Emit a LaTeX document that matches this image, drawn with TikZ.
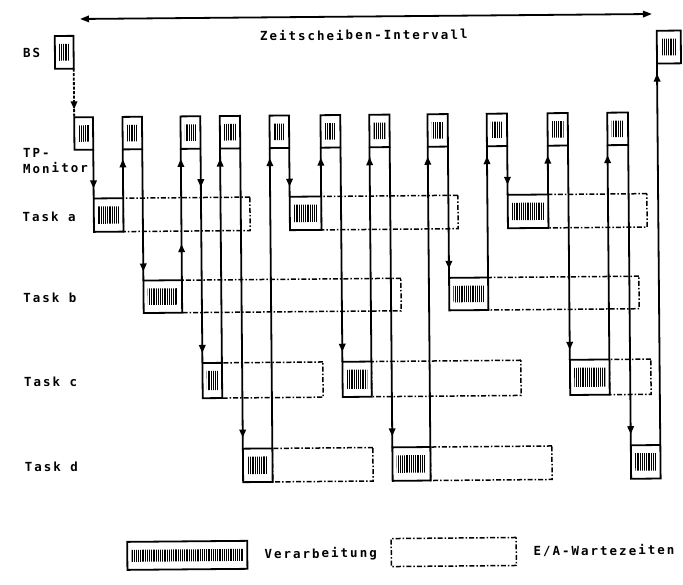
\documentclass[tikz,border=0pt]{standalone}
\usepackage{fontspec}
\newfontfamily\dmfont[LetterSpace=16]{DejaVu Sans Mono Bold}
\usetikzlibrary{arrows.meta,patterns.meta,decorations.markings}
\newcommand\mkbox[6]{\pgfmathsetmacro\bxw{#5-#3}\pgfmathsetmacro\bxh{#6-#4}%
  \node[#1,anchor=north west,minimum width=\bxw pt,minimum height=\bxh pt] (#2) at (#3,#4) {};}
\tikzset{
  lbl/.style={font=\dmfont\fontsize{12.5}{14}\selectfont, inner sep=0pt, text=black},
  procbox/.style={draw, line width=1.8pt, inner sep=0pt, outer sep=0pt, fill=white,
    path picture={\fill[pattern={Lines[angle=90,distance=2.2pt,line width=1.2pt]}]
      ([shift={(4.5pt,8pt)}]path picture bounding box.south west) rectangle
      ([shift={(-4.5pt,-8pt)}]path picture bounding box.north east);}},
  waitbox/.style={draw, line width=1.5pt, inner sep=0pt, outer sep=0pt,
    dash pattern=on 5pt off 2pt on 1.5pt off 2pt},
  conn/.style={line width=1.8pt},
  tipat/.style={postaction={decorate, decoration={markings,
    mark=at position #1 with {\arrow{Triangle[width=6.5pt,length=8pt]}}}}},
}
\begin{document}
\begin{tikzpicture}[x=1pt,y=-1pt]
\useasboundingbox (0,0) rectangle (683,584);
\begin{scope}[rotate around={0.5:(341.5,292)}, transform shape]
% labels
\node[lbl,anchor=west] (lbs) at (25,50.2) {BS};
\node[lbl,anchor=west] (ltp) at (24,150.2) {TP-};
\node[lbl,anchor=west] (lmon) at (24,165.4) {Monitor};
\node[lbl,anchor=west] (lta) at (23,214) {Task a};
\node[lbl,anchor=west] (ltb) at (23,295.5) {Task b};
\node[lbl,anchor=west] (ltc) at (23,379.5) {Task c};
\node[lbl,anchor=west] (ltd) at (23,464.5) {Task d};
\node[lbl] (ltitle) at (366,35) {Zeitscheiben-Intervall};
% time slice arrow
\coordinate (tl) at (82.4,16.7);
\coordinate (tr) at (654.4,16.7);
\draw[conn,{Triangle[width=6.5pt,length=9pt]}-{Triangle[width=6.5pt,length=9pt]}] (tl) -- (tr);
% waiting boxes
\mkbox{waitbox}{a1w}{124}{196.3}{250.7}{229.7}
\mkbox{waitbox}{a2w}{322}{196.3}{458.7}{229.7}
\mkbox{waitbox}{a3w}{549}{196.3}{647.7}{229.7}
\mkbox{waitbox}{b1w}{182}{278.8}{401}{311.3}
\mkbox{waitbox}{b2w}{488.2}{278.8}{639}{311.3}
\mkbox{waitbox}{c1w}{221.3}{361.8}{322.2}{397}
\mkbox{waitbox}{c2w}{370.8}{361.8}{520.2}{397}
\mkbox{waitbox}{c3w}{608.8}{361.8}{650.2}{397}
\mkbox{waitbox}{d1w}{271}{447.8}{371.5}{481.3}
\mkbox{waitbox}{d2w}{429}{447.8}{550.5}{481.3}
% processing boxes
\mkbox{procbox}{bs1}{57}{33.5}{75.7}{66.3}
\mkbox{procbox}{bs2}{659}{33.5}{683}{66.3}
\mkbox{procbox}{tp1}{75.7}{115}{94.5}{147.5}
\mkbox{procbox}{tp2}{124}{115}{143.5}{147.5}
\mkbox{procbox}{tp3}{182}{115}{201.8}{147.5}
\mkbox{procbox}{tp4}{221.3}{115}{241.5}{147.5}
\mkbox{procbox}{tp5}{271}{115}{290.5}{147.5}
\mkbox{procbox}{tp6}{322}{115}{341.8}{147.5}
\mkbox{procbox}{tp7}{370.8}{115}{391}{147.5}
\mkbox{procbox}{tp8}{429}{115}{449.2}{147.5}
\mkbox{procbox}{tp9}{488.2}{115}{508.5}{147.5}
\mkbox{procbox}{tp10}{549}{115}{569.3}{147.5}
\mkbox{procbox}{tp11}{608.8}{115}{629.5}{147.5}
\mkbox{procbox}{a1}{94.5}{196.3}{124}{229.7}
\mkbox{procbox}{a2}{290.5}{196.3}{322}{229.7}
\mkbox{procbox}{a3}{508.5}{196.3}{549}{229.7}
\mkbox{procbox}{b1}{143.5}{278.8}{182}{311.3}
\mkbox{procbox}{b2}{449.2}{278.8}{488.2}{311.3}
\mkbox{procbox}{c1}{201.8}{361.8}{221.3}{397}
\mkbox{procbox}{c2}{341.8}{361.8}{370.8}{397}
\mkbox{procbox}{c3}{569.3}{361.8}{608.8}{397}
\mkbox{procbox}{d1}{241.5}{447.8}{271}{481.3}
\mkbox{procbox}{d2}{391}{447.8}{429}{481.3}
\mkbox{procbox}{d3}{629.5}{447.8}{659}{481.3}
% connectors
\draw[conn,dash pattern=on 3pt off 1.5pt,tipat=-8pt] (bs1.south east) -- (tp1.north west);
\draw[conn,tipat=-10pt] (tp1.south east) -- (a1.north west);
\draw[conn,tipat=-10pt] (a1.north east) -- (tp2.south west);
\draw[conn,tipat=-9pt] (tp2.south east) -- (b1.north west);
\draw[conn,tipat=36pt,tipat=-10pt] (b1.north east) -- (tp3.south west);
\draw[conn,tipat=38.5pt,tipat=-10pt] (tp3.south east) -- (c1.north west);
\draw[conn,tipat=-10pt] (c1.north east) -- (tp4.south west);
\draw[conn,tipat=-11pt] (tp4.south east) -- (d1.north west);
\draw[conn,tipat=-10pt] (d1.north east) -- (tp5.south west);
\draw[conn,tipat=-10pt] (tp5.south east) -- (a2.north west);
\draw[conn,tipat=-10pt] (a2.north east) -- (tp6.south west);
\draw[conn,tipat=-10pt] (tp6.south east) -- (c2.north west);
\draw[conn,tipat=-10pt] (c2.north east) -- (tp7.south west);
\draw[conn,tipat=-11pt] (tp7.south east) -- (d2.north west);
\draw[conn,tipat=-10pt] (d2.north east) -- (tp8.south west);
\draw[conn,tipat=-9pt] (tp8.south east) -- (b2.north west);
\draw[conn,tipat=-10pt] (b2.north east) -- (tp9.south west);
\draw[conn,tipat=-10pt] (tp9.south east) -- (a3.north west);
\draw[conn,tipat=-10pt] (a3.north east) -- (tp10.south west);
\draw[conn,tipat=-10pt] (tp10.south east) -- (c3.north west);
\draw[conn,tipat=-10pt] (c3.north east) -- (tp11.south west);
\draw[conn,tipat=-11pt] (tp11.south east) -- (d3.north west);
\draw[conn,tipat=-10pt] (d3.north east) -- (bs2.south west);
% legend
\mkbox{procbox}{legp}{125}{540}{245}{568}
\node[lbl,anchor=west] (legpt) at (262,554) {Verarbeitung};
\mkbox{waitbox}{legw}{389}{539}{514}{567}
\node[lbl,anchor=west] (legwt) at (531,553) {E/A-Wartezeiten};
\end{scope}
\end{tikzpicture}
\end{document}
